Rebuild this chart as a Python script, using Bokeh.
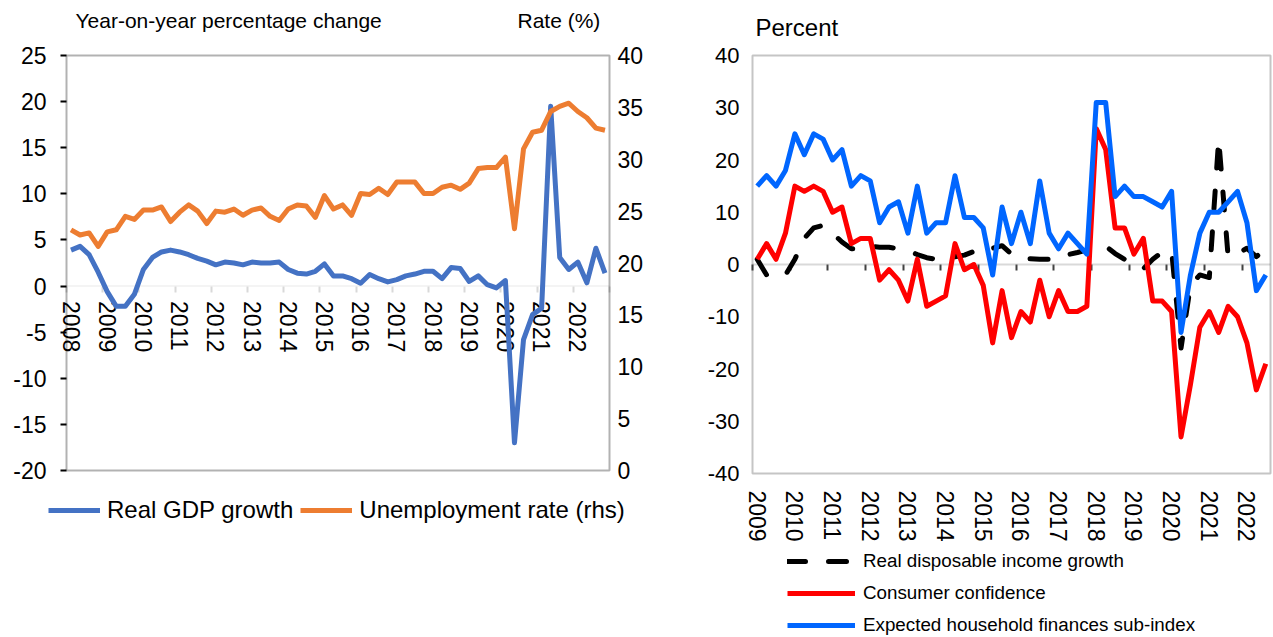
from bokeh.plotting import figure
from bokeh.layouts import row
from bokeh.models import (Range1d, LinearAxis, FixedTicker, Label, Legend, LegendItem,
                          BoxAnnotation)
from bokeh.embed import file_html
from bokeh.resources import INLINE

FONT = "Liberation Sans"

# ---------------- data: left chart (quarterly, 2008Q1-2022Q4) ----------------
years_left = list(range(2008, 2023))
gdp_growth = [
    3.9, 4.3, 3.4, 1.5,
    -0.6, -2.2, -2.2, -0.9,
    1.8, 3.1, 3.7, 3.9,
    3.7, 3.4, 3.0, 2.7,
    2.3, 2.6, 2.5, 2.3,
    2.6, 2.5, 2.5, 2.6,
    1.8, 1.4, 1.3, 1.6,
    2.4, 1.1, 1.1, 0.8,
    0.3, 1.25, 0.8, 0.45,
    0.7, 1.1, 1.3, 1.6,
    1.6, 0.8, 2.0, 1.9,
    0.5, 1.1, 0.15, -0.2,
    0.6, -17.0, -5.8, -3.1,
    -2.4, 19.5, 3.1, 1.8,
    2.6, 0.35, 4.1, 1.4,
]
unemployment = [
    23.2, 22.7, 22.9, 21.6,
    23.0, 23.2, 24.5, 24.2,
    25.1, 25.1, 25.4, 24.0,
    24.9, 25.6, 25.0, 23.8,
    25.0, 24.9, 25.2, 24.6,
    25.1, 25.3, 24.5, 24.1,
    25.2, 25.6, 25.5, 24.4,
    26.5, 25.2, 25.6, 24.6,
    26.7, 26.6, 27.2, 26.6,
    27.8, 27.8, 27.8, 26.7,
    26.7, 27.3, 27.5, 27.1,
    27.7, 29.1, 29.2, 29.2,
    30.2, 23.3, 31.0, 32.6,
    32.8, 34.6, 35.1, 35.4,
    34.6, 34.0, 33.0, 32.8,
]
left_ticks = [-20, -15, -10, -5, 0, 5, 10, 15, 20, 25]
right_ticks = [0, 5, 10, 15, 20, 25, 30, 35, 40]

# ---------------- data: right chart (quarterly, 2009Q1-2022Q3) ----------------
years_right = list(range(2009, 2023))
income_growth = [
    1, -2, -2.5, -2,
    1, 5, 7, 7.5,
    6, 4.3, 3, 3,
    3.5, 3.3, 3.3, 3,
    2.7, 1.9, 1.3, 1,
    0.8, 1.5, 1.8, 2.5,
    3.4, 3.1, 3.6, 2,
    1.1, 1.1, 1, 1,
    1.1, 1.9, 2.3, 2.8,
    3.1, 3.5, 2.1, 1,
    0.3, -0.8, 1, 2.4,
    2.6, -16, -4, -2,
    -2.5, 24, 1.5, 2.1,
    3.1, 1.5, 3,
]
consumer_conf = [
    1, 4, 1, 6,
    15, 14, 15, 14,
    10, 11, 4, 5,
    5, -3, -1, -3,
    -7, 1, -8, -7,
    -6, 4, -1, 0,
    -4, -15, -5, -14,
    -9, -11, -3, -10,
    -5, -9, -9, -8,
    26, 22, 7, 7,
    2, 5, -7, -7,
    -9, -33, -23, -12,
    -9, -13, -8, -10,
    -15, -24, -19,
]
hh_finances = [
    15, 17, 15, 18,
    25, 21, 25, 24,
    20, 22, 15, 17,
    16, 8, 11, 12,
    6, 15, 6, 8,
    8, 17, 9, 9,
    7, -2, 11, 4,
    10, 4, 16, 6,
    3, 6, 4, 2,
    31, 31, 13, 15,
    13, 13, 12, 11,
    14, -13, -2, 6,
    10, 10, 12, 14,
    8, -5, -2,
]
pct_ticks = [-40, -30, -20, -10, 0, 10, 20, 30, 40]

xl = list(range(len(gdp_growth)))
xr = list(range(len(hh_finances)))

CANVAS_H = 637


def span_range(lo, hi, px_lo, px_hi, total_px):
    """Range whose value lo sits at px_lo and hi at px_hi (pixels from left/bottom)."""
    k = (hi - lo) / (px_hi - px_lo)
    return Range1d(lo - px_lo * k, hi + (total_px - px_hi) * k)


def style_labels(ax, size):
    ax.major_label_text_font = FONT
    ax.major_label_text_font_size = size
    ax.major_label_text_color = "black"
    ax.minor_tick_line_color = None


def plain_labels(ticks):
    return {t: str(t) for t in ticks}


# ============================ LEFT CHART ============================
W1 = 648
BOX1 = dict(left=66, right=609, top=55, bottom=470)   # pixel box of the plot area
x_lo, x_hi = xl[0] - 0.5, xl[-1] + 0.5
y_lo, y_hi = left_ticks[0], left_ticks[-1]
r_lo, r_hi = right_ticks[0], right_ticks[-1]

p1 = figure(width=W1, height=CANVAS_H, output_backend="svg", toolbar_location=None,
            x_range=span_range(x_lo, x_hi, BOX1["left"], BOX1["right"], W1),
            y_range=span_range(y_lo, y_hi, CANVAS_H - BOX1["bottom"], CANVAS_H - BOX1["top"], CANVAS_H),
            x_axis_location=None, y_axis_location=None, min_border=0)
p1.extra_y_ranges = {"rate": span_range(r_lo, r_hi, CANVAS_H - BOX1["bottom"],
                                        CANVAS_H - BOX1["top"], CANVAS_H)}
p1.grid.visible = False
p1.outline_line_color = None
p1.background_fill_color = "white"
p1.border_fill_color = "white"

# zero line (category axis line)
p1.add_layout(BoxAnnotation(left=x_lo, right=x_hi, bottom=0, top=0, fill_alpha=0,
                            line_color="#d9d9d9", line_width=2, level="underlay"))

ly = LinearAxis(fixed_location=x_lo, ticker=FixedTicker(ticks=left_ticks),
                major_label_overrides=plain_labels(left_ticks))
style_labels(ly, "23px")
ly.axis_line_color = None
ly.major_tick_line_color = "black"
ly.major_tick_line_width = 2
ly.major_tick_out = 6
ly.major_tick_in = 0
ly.major_label_standoff = 14
p1.add_layout(ly, "left")

ry = LinearAxis(y_range_name="rate", fixed_location=x_hi, ticker=FixedTicker(ticks=right_ticks),
                major_label_overrides=plain_labels(right_ticks))
style_labels(ry, "23px")
ry.axis_line_color = None
ry.major_tick_out = 0
ry.major_tick_in = 0
ry.major_label_standoff = 8
p1.add_layout(ry, "right")

bounds_l = [x_lo + 4 * k for k in range(len(years_left) + 1)]
xt1 = LinearAxis(fixed_location=0, ticker=FixedTicker(ticks=bounds_l),
                 major_label_overrides={b: "" for b in bounds_l})
xt1.axis_line_color = None
xt1.major_tick_line_color = "#d9d9d9"
xt1.major_tick_line_width = 2
xt1.major_tick_out = 6
xt1.major_tick_in = 0
xt1.minor_tick_line_color = None
xt1.level = "underlay"
p1.add_layout(xt1, "below")

lab_l = [4 * k for k in range(len(years_left))]
xl1 = LinearAxis(fixed_location=0, ticker=FixedTicker(ticks=lab_l),
                 major_label_overrides={pos: str(yr) for pos, yr in zip(lab_l, years_left)})
style_labels(xl1, "23px")
xl1.major_label_orientation = "vertical"
xl1.axis_line_color = None
xl1.major_tick_line_color = None
xl1.major_tick_out = 6
xl1.major_tick_in = 0
xl1.major_label_standoff = 9
xl1.level = "underlay"
p1.add_layout(xl1, "below")

r_gdp = p1.line(xl, gdp_growth, line_color="#4472C4", line_width=5, line_join="round")
r_un = p1.line(xl, unemployment, y_range_name="rate", line_color="#ED7D31", line_width=5,
               line_join="round")

# plot-area border
p1.add_layout(BoxAnnotation(left=x_lo, right=x_hi, bottom=y_lo, top=y_hi, fill_alpha=0,
                            line_color="black", line_width=2))

p1.add_layout(Label(x=75, y=CANVAS_H - 20, x_units="screen", y_units="screen",
                    text="Year-on-year percentage change", text_font=FONT,
                    text_font_size="21px", text_baseline="middle", text_color="black"))
p1.add_layout(Label(x=517, y=CANVAS_H - 20, x_units="screen", y_units="screen",
                    text="Rate (%)", text_font=FONT,
                    text_font_size="21px", text_baseline="middle", text_color="black"))

leg1 = Legend(items=[LegendItem(label="Real GDP growth", renderers=[r_gdp]),
                     LegendItem(label="Unemployment rate (rhs)", renderers=[r_un])],
              location=(48, CANVAS_H - 525), orientation="horizontal",
              glyph_width=52, glyph_height=30, label_height=30, label_standoff=7,
              spacing=7, padding=0, margin=0,
              label_text_font=FONT, label_text_font_size="24px", label_text_color="black",
              border_line_color=None, background_fill_alpha=0)
p1.add_layout(leg1)

# ============================ RIGHT CHART ============================
W2 = 625
BOX2 = dict(left=104, right=622, top=55, bottom=473)
x2_lo, x2_hi = xr[0] - 0.5, xr[-1] + 0.5
p_lo, p_hi = pct_ticks[0], pct_ticks[-1]

p2 = figure(width=W2, height=CANVAS_H, output_backend="svg", toolbar_location=None,
            x_range=span_range(x2_lo, x2_hi, BOX2["left"], BOX2["right"], W2),
            y_range=span_range(p_lo, p_hi, CANVAS_H - BOX2["bottom"], CANVAS_H - BOX2["top"], CANVAS_H),
            x_axis_location=None, y_axis_location=None, min_border=0)
p2.grid.visible = False
p2.outline_line_color = None
p2.background_fill_color = "white"
p2.border_fill_color = "white"

p2.add_layout(BoxAnnotation(left=x2_lo, right=x2_hi, bottom=0, top=0, fill_alpha=0,
                            line_color="#808080", line_width=2, level="underlay"))

py = LinearAxis(fixed_location=x2_lo, ticker=FixedTicker(ticks=pct_ticks),
                major_label_overrides=plain_labels(pct_ticks))
style_labels(py, "22px")
py.axis_line_color = None
py.major_tick_out = 0
py.major_tick_in = 0
py.major_label_standoff = 13
p2.add_layout(py, "left")

bounds_r = [x2_lo + 4 * k for k in range(len(years_right))]
xt2 = LinearAxis(fixed_location=0, ticker=FixedTicker(ticks=bounds_r),
                 major_label_overrides={b: "" for b in bounds_r})
xt2.axis_line_color = None
xt2.major_tick_line_color = "#404040"
xt2.major_tick_line_width = 2
xt2.major_tick_out = 6
xt2.major_tick_in = 0
xt2.minor_tick_line_color = None
xt2.level = "underlay"
p2.add_layout(xt2, "below")

lab_r = [4 * k for k in range(len(years_right))]
xb2 = LinearAxis(fixed_location=p_lo, ticker=FixedTicker(ticks=lab_r),
                 major_label_overrides={pos: str(yr) for pos, yr in zip(lab_r, years_right)})
style_labels(xb2, "23px")
xb2.major_label_orientation = "vertical"
xb2.axis_line_color = None
xb2.major_tick_line_color = None
xb2.major_tick_out = 0
xb2.major_tick_in = 0
xb2.major_label_standoff = 17
p2.add_layout(xb2, "below")

r_inc = p2.line(xr, income_growth, line_color="black", line_width=5, line_dash="18 23",
                line_cap="round", line_join="round")
r_cc = p2.line(xr, consumer_conf, line_color="#FF0000", line_width=5, line_join="round")
r_hh = p2.line(xr, hh_finances, line_color="#0066FF", line_width=5, line_join="round")

p2.add_layout(BoxAnnotation(left=x2_lo, right=x2_hi, bottom=p_lo, top=p_hi, fill_alpha=0,
                            line_color="#404040", line_width=2))

p2.add_layout(Label(x=107, y=CANVAS_H - 27, x_units="screen", y_units="screen",
                    text="Percent", text_font=FONT,
                    text_font_size="24px", text_baseline="middle", text_color="black"))

leg2 = Legend(items=[LegendItem(label="Real disposable income growth", renderers=[r_inc]),
                     LegendItem(label="Consumer confidence", renderers=[r_cc]),
                     LegendItem(label="Expected household finances sub-index", renderers=[r_hh])],
              location=(139, CANVAS_H - 637), orientation="vertical",
              glyph_width=68, glyph_height=24, label_height=24, label_standoff=8,
              spacing=8, padding=0, margin=0,
              label_text_font=FONT, label_text_font_size="18.8px", label_text_color="black",
              border_line_color=None, background_fill_alpha=0)
p2.add_layout(leg2)

layout = row(p1, p2)
open("out.html", "w").write(file_html(layout, INLINE))
